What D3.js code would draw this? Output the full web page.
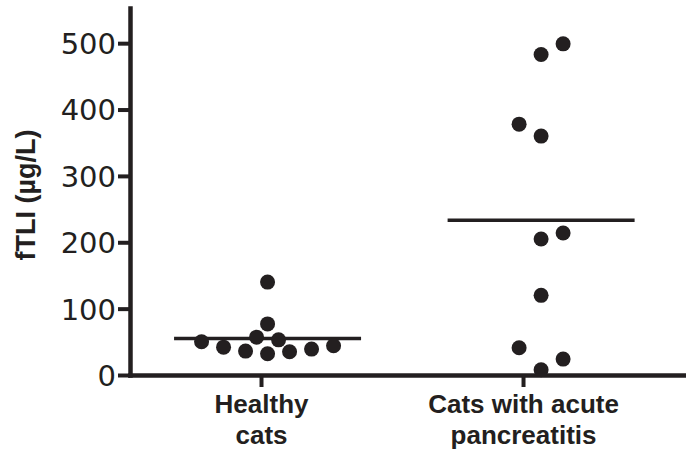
<!DOCTYPE html>
<html>
<head>
<meta charset="utf-8">
<script src="https://cdn.jsdelivr.net/npm/d3@7"></script>
<style>
  html, body { margin: 0; padding: 0; background: #fff; }
  svg { display: block; }
</style>
</head>
<body>
<div id="chart"></div>
<script>
// groups shown on the x axis (one label line per entry)
const categoryLabels = [["Healthy", "cats"], ["Cats with acute", "pancreatitis"]];
const categoryTicks = [1, 2];
// where each group's dot column is centred, in category units
const groupCenters = [1.025, 2.069];

// fTLI values (µg/L) and lateral slot of each dot (in dot widths)
const healthyValues = [140, 77, 57, 53, 50, 42, 36, 32, 35, 39, 44];
const healthySlots = [0, 0, -0.5, 0.5, -3, -2, -1, 0, 1, 2, 3];
const pancreatitisValues = [499, 483, 378, 360, 214, 205, 120, 41, 24, 8];
const pancreatitisSlots = [1, 0, -1, 0, 1, 0, 0, -1, 1, 0];

const yTicks = [0, 100, 200, 300, 400, 500];
const yLabel = "fTLI (\u00b5g/L)";

const width = 686, height = 451;
const ink = '#231f20';
const dotR = 7.5, dotStep = 22, meanHalf = 93.5;

const svg = d3.select('#chart').append('svg')
  .attr('width', width)
  .attr('height', height);

const x = d3.scaleLinear().domain([0.5, 2.622]).range([130, 686]);
const y = d3.scaleLinear().domain([0, 553]).range([375, 8]);

const groups = [
  { values: healthyValues, slots: healthySlots, center: groupCenters[0] },
  { values: pancreatitisValues, slots: pancreatitisSlots, center: groupCenters[1] }
];

// mean lines
groups.forEach(g => {
  const cx = x(g.center);
  const m = d3.mean(g.values);
  svg.append('line')
    .attr('x1', cx - meanHalf)
    .attr('x2', cx + meanHalf)
    .attr('y1', y(m))
    .attr('y2', y(m))
    .attr('stroke', ink)
    .attr('stroke-width', 3.5);
});

// dots
groups.forEach(g => {
  const cx = x(g.center);
  svg.append('g').selectAll('circle')
    .data(g.values.map((v, i) => ({ v, s: g.slots[i] })))
    .enter()
    .append('circle')
    .attr('cx', d => cx + d.s * dotStep)
    .attr('cy', d => y(d.v))
    .attr('r', dotR)
    .attr('fill', ink);
});

// y axis
const yAxis = svg.append('g')
  .attr('transform', `translate(${x(0.5)},0)`)
  .call(d3.axisLeft(y).tickValues(yTicks).tickSize(12).tickSizeOuter(0).tickPadding(2));

yAxis.select('.domain').attr('stroke', ink).attr('stroke-width', 4.5).attr('stroke-linecap', 'square');
yAxis.selectAll('.tick line').attr('stroke', ink).attr('stroke-width', 4);
yAxis.selectAll('.tick text')
  .attr('fill', ink)
  .style('font-family', '"DejaVu Sans", sans-serif')
  .style('font-size', '29px')
  .attr('dy', '0.36em');

// x axis
const xAxis = svg.append('g')
  .attr('transform', `translate(0,${y(0)})`)
  .call(d3.axisBottom(x).tickValues(categoryTicks).tickSize(12).tickSizeOuter(0).tickFormat(''));

xAxis.select('.domain').attr('stroke', ink).attr('stroke-width', 4.5).attr('stroke-linecap', 'square');
xAxis.selectAll('.tick line').attr('stroke', ink).attr('stroke-width', 4);

xAxis.selectAll('.tick').each(function(d, i) {
  const t = d3.select(this).select('text')
    .attr('y', null)
    .attr('dy', null)
    .attr('fill', ink)
    .style('font-family', '"Liberation Sans", Arial, sans-serif')
    .style('font-weight', 'bold')
    .style('font-size', '26px')
    .attr('text-anchor', 'middle');
  t.selectAll('tspan')
    .data(categoryLabels[i])
    .enter()
    .append('tspan')
    .attr('x', 0)
    .attr('y', (l, j) => 38 + j * 31)
    .text(l => l);
});

// y axis title
svg.append('text')
  .attr('transform', `translate(35,195) rotate(-90)`)
  .attr('text-anchor', 'middle')
  .attr('fill', ink)
  .style('font-family', '"Liberation Sans", Arial, sans-serif')
  .style('font-weight', 'bold')
  .style('font-size', '27px')
  .text(yLabel);
</script>
</body>
</html>
